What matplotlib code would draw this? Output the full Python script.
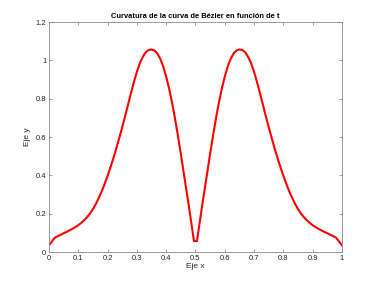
import matplotlib
matplotlib.use("Agg")
import matplotlib.pyplot as plt

t_vals = [0.00, 0.01, 0.02, 0.03, 0.04, 0.05, 0.06, 0.07, 0.08, 0.09,
          0.10, 0.11, 0.12, 0.13, 0.14, 0.15, 0.16, 0.17, 0.18, 0.19,
          0.20, 0.21, 0.22, 0.23, 0.24, 0.25, 0.26, 0.27, 0.28, 0.29,
          0.30, 0.31, 0.32, 0.33, 0.34, 0.35, 0.36, 0.37, 0.38, 0.39,
          0.40, 0.41, 0.42, 0.43, 0.44, 0.45, 0.46, 0.47, 0.48, 0.4949,
          0.5051, 0.52, 0.53, 0.54, 0.55, 0.56, 0.57, 0.58, 0.59,
          0.60, 0.61, 0.62, 0.63, 0.64, 0.65, 0.66, 0.67, 0.68, 0.69,
          0.70, 0.71, 0.72, 0.73, 0.74, 0.75, 0.76, 0.77, 0.78, 0.79,
          0.80, 0.81, 0.82, 0.83, 0.84, 0.85, 0.86, 0.87, 0.88, 0.89,
          0.90, 0.91, 0.92, 0.93, 0.94, 0.95, 0.96, 0.97, 0.98, 0.99, 1.00]
curv_vals = [0.035, 0.055, 0.075, 0.083, 0.090, 0.098, 0.105, 0.113, 0.121, 0.130,
             0.140, 0.152, 0.166, 0.182, 0.201, 0.224, 0.251, 0.282, 0.317, 0.356,
             0.398, 0.443, 0.491, 0.542, 0.596, 0.652, 0.710, 0.770, 0.830, 0.888,
             0.940, 0.985, 1.018, 1.042, 1.054, 1.057, 1.052, 1.036, 1.008, 0.968,
             0.915, 0.853, 0.780, 0.698, 0.608, 0.512, 0.413, 0.313, 0.213, 0.057,
             0.057, 0.213, 0.313, 0.413, 0.512, 0.608, 0.698, 0.780, 0.853,
             0.915, 0.968, 1.008, 1.036, 1.052, 1.057, 1.054, 1.042, 1.018, 0.985,
             0.940, 0.888, 0.830, 0.770, 0.710, 0.652, 0.596, 0.542, 0.491, 0.443,
             0.398, 0.356, 0.317, 0.282, 0.251, 0.224, 0.201, 0.182, 0.166, 0.152,
             0.140, 0.130, 0.121, 0.113, 0.105, 0.098, 0.090, 0.083, 0.075, 0.055, 0.035]

x_ticks = [0, 0.1, 0.2, 0.3, 0.4, 0.5, 0.6, 0.7, 0.8, 0.9, 1]
x_tick_labels = ["0", "0.1", "0.2", "0.3", "0.4", "0.5", "0.6", "0.7", "0.8", "0.9", "1"]
y_ticks = [0, 0.2, 0.4, 0.6, 0.8, 1, 1.2]
y_tick_labels = ["0", "0.2", "0.4", "0.6", "0.8", "1", "1.2"]

plt.rcParams['font.family'] = ['Liberation Sans', 'DejaVu Sans']

fig = plt.figure(figsize=(3.77, 2.83), dpi=100)
ax = fig.add_axes([0.130, 0.1095, 0.777, 0.8125])
ax.plot(t_vals, curv_vals, color='#ff0000', linewidth=1.5, solid_joinstyle='round')

ax.set_xlim(0, 1)
ax.set_ylim(0, 1.2)
ax.set_xticks(x_ticks)
ax.set_xticklabels(x_tick_labels)
ax.set_yticks(y_ticks)
ax.set_yticklabels(y_tick_labels)

axcol = '#8c8c8c'
for s in ax.spines.values():
    s.set_color(axcol)
    s.set_linewidth(0.6)
ax.tick_params(direction='in', length=2.5, width=0.6, color=axcol,
               labelsize=5.5, labelcolor='#262626', top=True, right=True, pad=2)

ax.set_xlabel("Eje x", fontsize=6, color='#262626', labelpad=1)
ax.set_ylabel("Eje y", fontsize=6, color='#262626', labelpad=3)
ax.set_title("Curvatura de la curva de Bézier en función de t", fontsize=5.4,
             fontweight='bold', color='black', pad=3)

fig.savefig("out.png", dpi=100)
